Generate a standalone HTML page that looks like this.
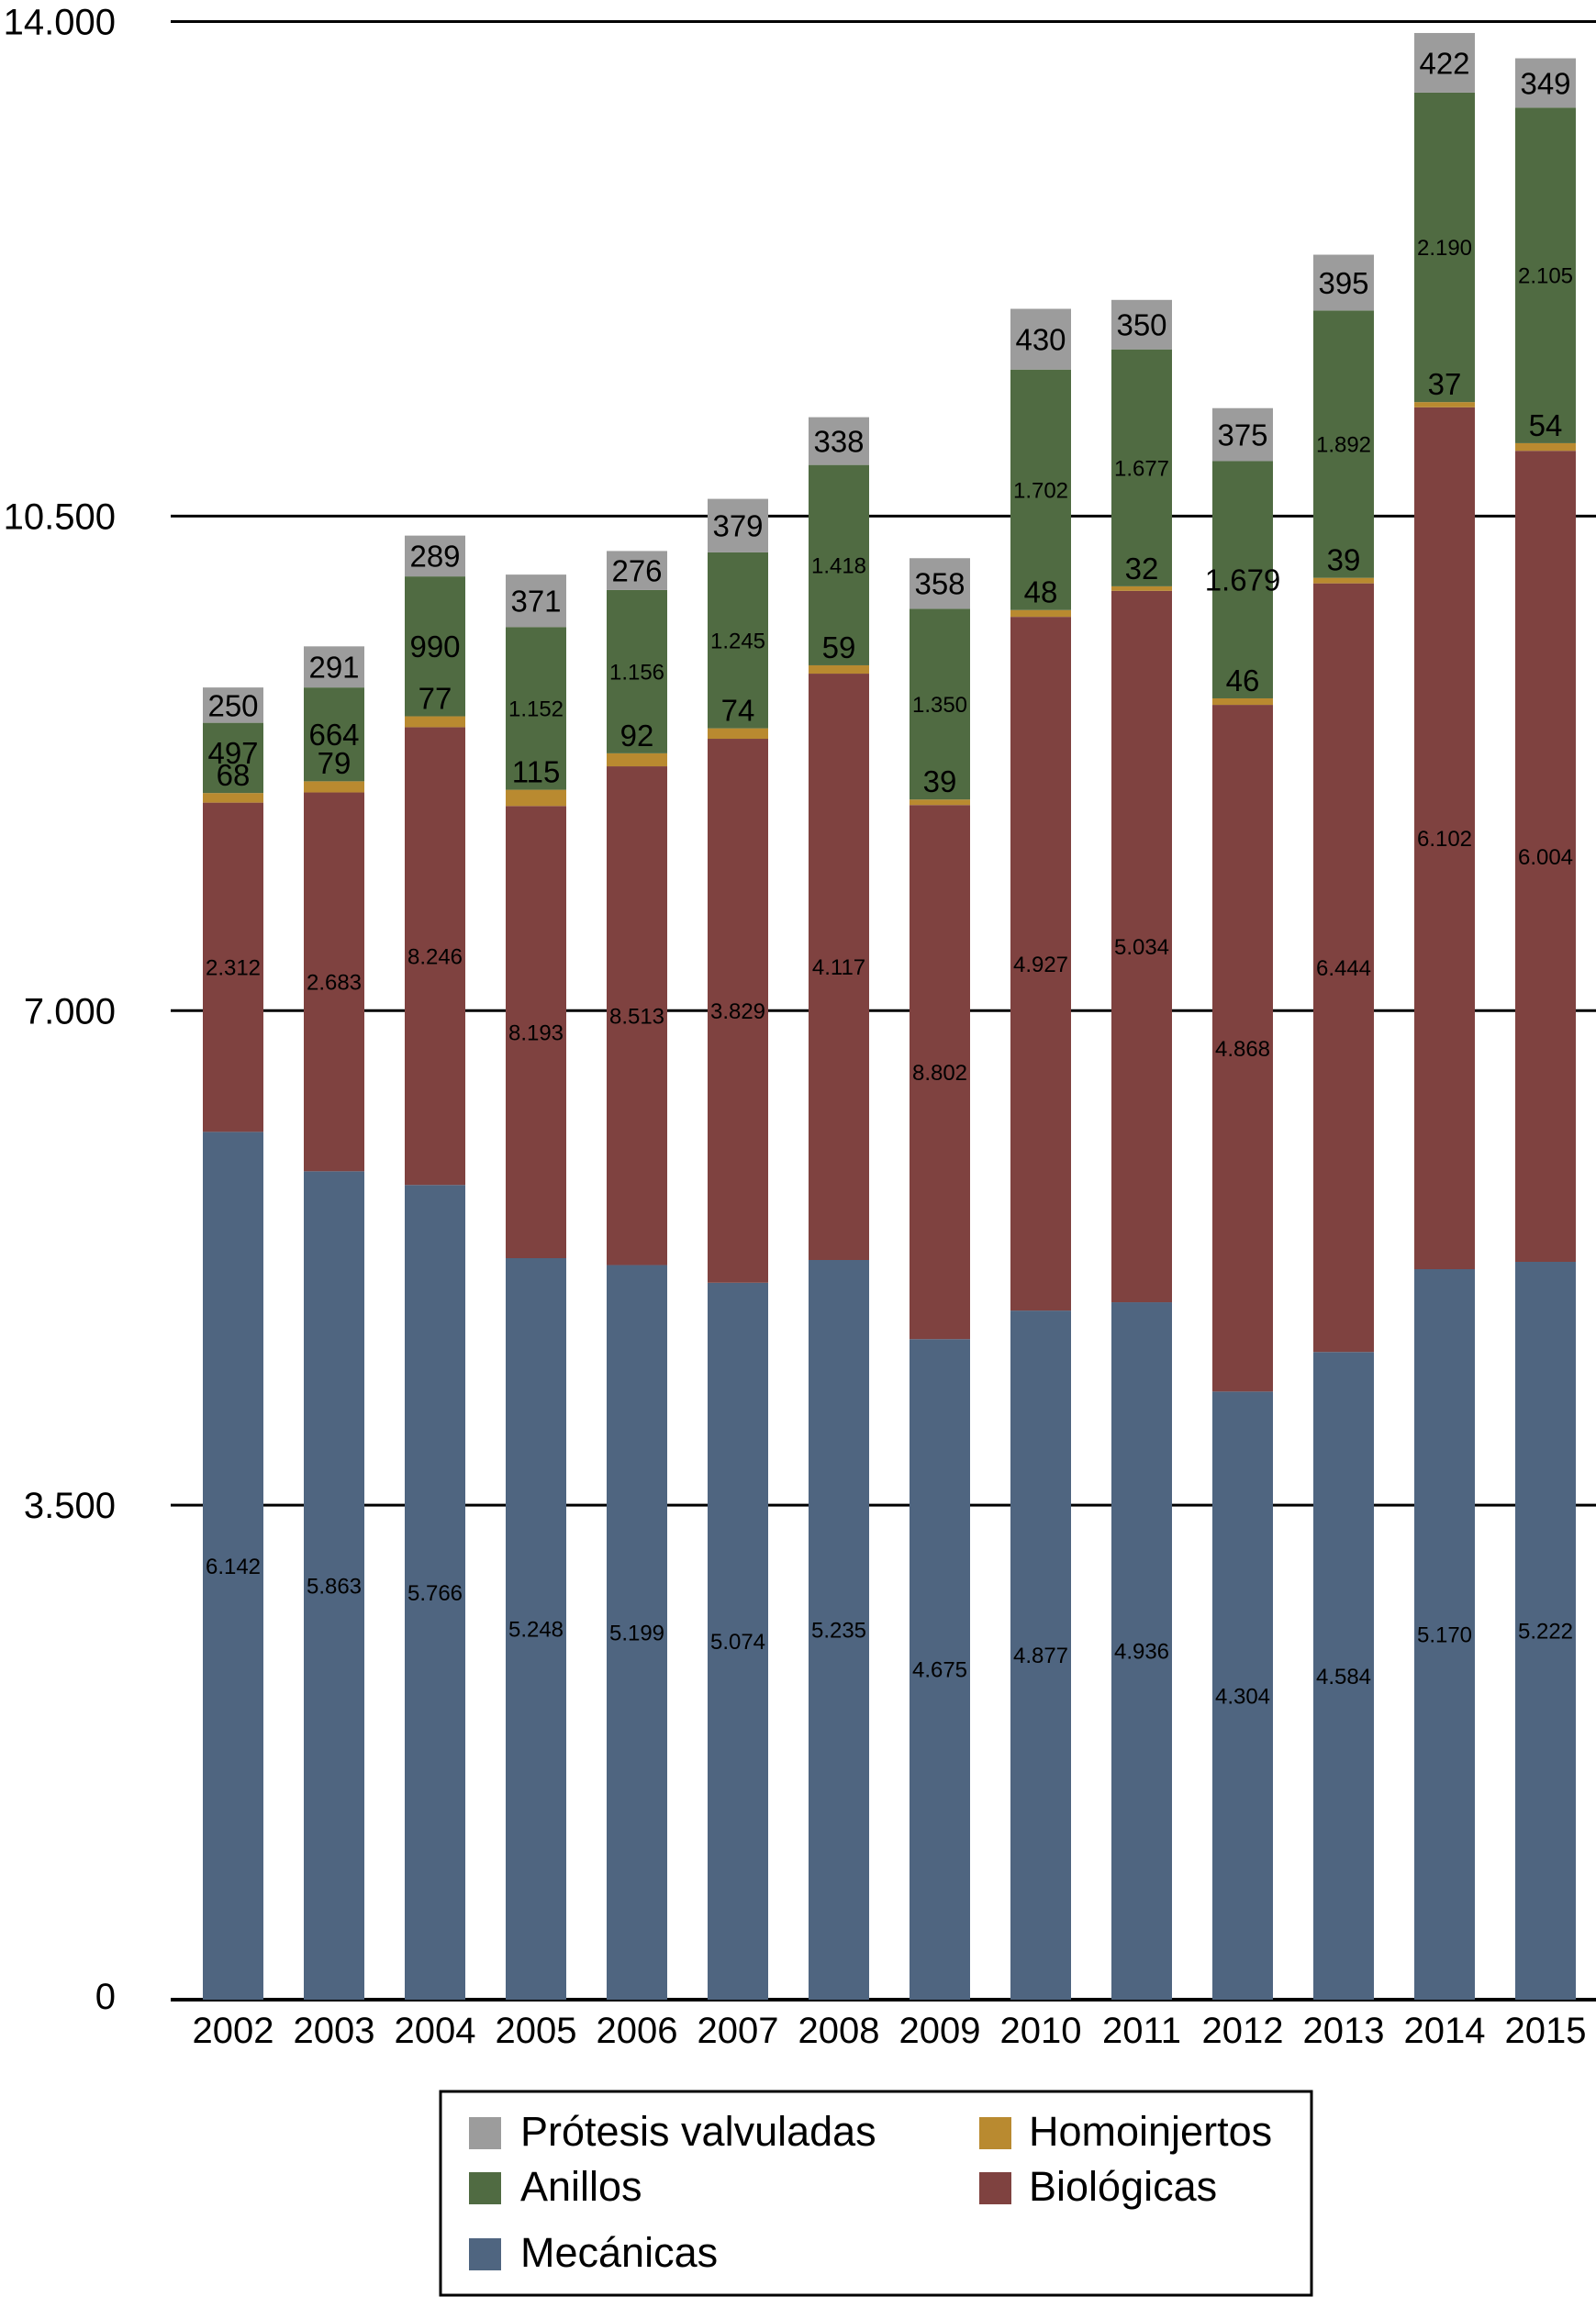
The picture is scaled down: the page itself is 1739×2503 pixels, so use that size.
<!DOCTYPE html>
<html><head><meta charset="utf-8">
<style>
body{margin:0;background:#fff;}
svg{display:block;font-family:"Liberation Sans",sans-serif;}
</style></head>
<body>
<svg id="chart" width="1739" height="2503" viewBox="0 0 1739 2503" xmlns="http://www.w3.org/2000/svg">
<g id="grid"></g>
<g id="bars"></g>
<g id="labels"></g>
<g id="axis"></g>
<g>
<rect x="480" y="2279" width="949" height="222" fill="#fff" stroke="#000" stroke-width="3"/>
<rect x="511" y="2307" width="35" height="35" fill="#9c9c9c"/>
<text x="567" y="2338" font-size="45">Prótesis valvuladas</text>
<rect x="1067" y="2307" width="35" height="35" fill="#b98a30"/>
<text x="1121" y="2338" font-size="45">Homoinjertos</text>
<rect x="511" y="2367" width="35" height="35" fill="#506b42"/>
<text x="567" y="2398" font-size="45">Anillos</text>
<rect x="1067" y="2367" width="35" height="35" fill="#7f4240"/>
<text x="1121" y="2398" font-size="45">Biológicas</text>
<rect x="511" y="2439" width="35" height="35" fill="#4f6580"/>
<text x="567" y="2470" font-size="45">Mecánicas</text>
</g>
</svg>
<script>
const years=["2002","2003","2004","2005","2006","2007","2008","2009","2010","2011","2012","2013","2014","2015"];
const mecanicas=[6142,5863,5766,5248,5199,5074,5235,4675,4877,4936,4304,4584,5170,5222];
const biologicas=[2330,2681,3240,3200,3530,3850,4150,3780,4910,5035,4860,5440,6100,5740];
const homoinjertos=[68,79,77,115,92,74,59,39,48,32,46,39,37,54];
const anillos=[497,664,990,1152,1156,1245,1418,1350,1702,1677,1679,1892,2190,2375];
const protesis=[250,291,289,371,276,379,338,358,430,350,375,395,422,349];
const mecLabels=["6.142","5.863","5.766","5.248","5.199","5.074","5.235","4.675","4.877","4.936","4.304","4.584","5.170","5.222"];
const bioLabels=["2.312","2.683","8.246","8.193","8.513","3.829","4.117","8.802","4.927","5.034","4.868","6.444","6.102","6.004"];
const homoLabels=["68","79","77","115","92","74","59","39","48","32","46","39","37","54"];
const aniLabels=["497","664","990","1.152","1.156","1.245","1.418","1.350","1.702","1.677","1.679","1.892","2.190","2.105"];
const proLabels=["250","291","289","371","276","379","338","358","430","350","375","395","422","349"];
const yTicks=[0,3500,7000,10500,14000];
const yTickLabels=["0","3.500","7.000","10.500","14.000"];

const NS="http://www.w3.org/2000/svg";
const y0=2179,yTop=23.5,yMax=14000;
const yS=v=>y0-(v/yMax)*(y0-yTop);
const xC=i=>254+i*110;
const bw=66;
function mk(tag,attrs,parent){const e=document.createElementNS(NS,tag);for(const k in attrs)e.setAttribute(k,attrs[k]);parent.appendChild(e);return e;}
const grid=document.getElementById('grid'),bars=document.getElementById('bars'),labels=document.getElementById('labels'),axis=document.getElementById('axis');
yTicks.forEach((t,i)=>{
  const l=mk('line',{x1:186,x2:1739,y1:yS(t),y2:yS(t),stroke:'#000','stroke-width':i==0?4:3},grid);
  
  
  const tx=mk('text',{x:126,y:yS(t)+(i==0?10:14),'font-size':40,'text-anchor':'end'},axis);
  tx.textContent=yTickLabels[i];
  
  
});
const series=[
 {d:mecanicas,c:'#4f6580',n:'mecanicas',lab:mecLabels,fs:24},
 {d:biologicas,c:'#7f4240',n:'biologicas',lab:bioLabels,fs:24},
 {d:homoinjertos,c:'#b98a30',n:'homoinjertos',lab:homoLabels,fs:33},
 {d:anillos,c:'#506b42',n:'anillos',lab:aniLabels,fs:24},
 {d:protesis,c:'#9c9c9c',n:'protesis',lab:proLabels,fs:33}
];
years.forEach((yr,i)=>{
  let cum=0;
  series.forEach((s,si)=>{
    const v=s.d[i];
    const yb=yS(cum),yt=yS(cum+v);
    const r=mk('rect',{x:xC(i)-bw/2,y:yt,width:bw,height:yb-yt,fill:s.c},bars);
    
    
    let ly=(yt+yb)/2, fs=s.fs;
    if(s.n==='homoinjertos'){ly=yt-20;}
    if(s.n==='anillos'&&(v<1000||i==10))fs=33;
    if(s.n==='anillos'&&i==0)ly-=6;
    const t=mk('text',{x:xC(i),y:ly+fs*0.36,'font-size':fs,'text-anchor':'middle',fill:'#000'},labels);
    t.textContent=s.lab[i];
    
    
    cum+=v;
  });
  const xt=mk('text',{x:xC(i),y:2226,'font-size':40,'text-anchor':'middle'},axis);
  xt.textContent=yr;
  
  
});
</script>
</body></html>
